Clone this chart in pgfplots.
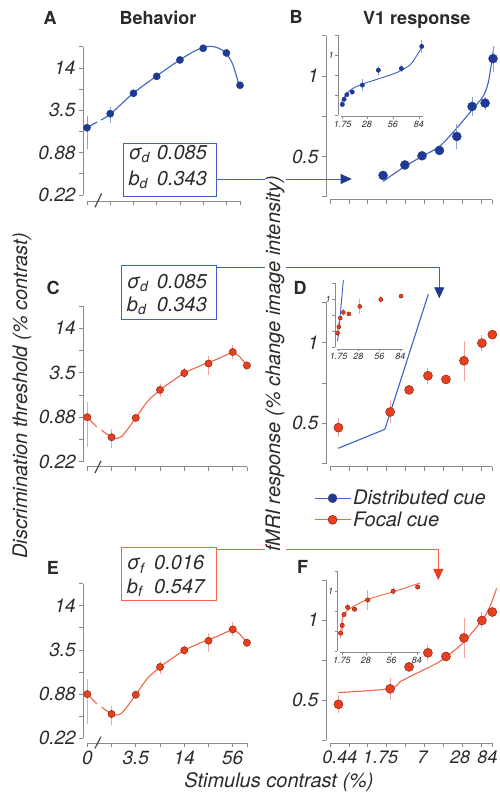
\documentclass[border=0pt]{standalone}
\usepackage{fontspec}
\setmainfont{TeX Gyre Heros}
\usepackage{pgfplots}
\usepackage{pgfplotstable}
\pgfplotsset{compat=1.18}
\usetikzlibrary{arrows.meta}

\definecolor{axgray}{HTML}{8A8A8A}
\definecolor{txt}{HTML}{2A2A2A}
\definecolor{bdot}{HTML}{1F3A93}
\definecolor{bline}{HTML}{3D62C4}
\definecolor{berr}{HTML}{8EA2DA}
\definecolor{rdot}{HTML}{E8401F}
\definecolor{redge}{HTML}{8E2412}
\definecolor{rline}{HTML}{F0644A}
\definecolor{rerr}{HTML}{F4A49A}

\newcommand\fs[1]{\fontsize{#1}{#1}\selectfont}
% tick label moved left by half of #1
\newcommand\lft[2]{\makebox[0pt]{\textit{#2}\hspace*{#1}}}

% behaviour: threshold (% contrast); 0 % contrast sits at 0.875, left of the break
\pgfplotstableread{
c thr ep em
0.875 1.99 0.93 1.0
1.75 3.15 0.77 0.83
3.5 6.14 0 0
7 10.7 0 0
14 18.3 0 0
28 26.8 0 0
56 23.0 0 0
84 7.99 0 0
}\distbeh
\pgfplotstableread{
c thr ep em
0.875 0.88 0.55 0.535
1.75 0.471 0.134 0.137
3.5 0.861 0 0
7 2.06 0.43 0.39
14 3.48 0.59 0.51
28 4.69 1.28 1.39
56 6.70 1.71 1.32
84 4.41 0.59 0.56
}\focalbeh
% fMRI response (% change)
\pgfplotstableread{
c resp err
1.54 0.382 0
3.43 0.447 0.03
6.44 0.504 0.02
12.2 0.537 0
23.1 0.624 0.077
40.4 0.810 0.057
65.2 0.831 0.04
87.2 1.107 0.08
}\distfmri
\pgfplotstableread{
c resp err
0.3 0.473 0.057
2 0.57 0.07
4 0.707 0
8 0.795 0.05
15.5 0.772 0
30 0.888 0.124
58 0.997 0.05
85 1.05 0.03
}\focalfmri

\pgfplotsset{
  every axis/.append style={scale only axis, axis lines=left, axis line style={axgray,line width=0.7pt,-},
    tick style={axgray,line width=0.7pt}, tick align=outside, major tick length=4pt, clip=false,
    ticklabel style={font=\fs{19}\itshape, text=txt}},
  bfit/.style={bline, line width=1.1pt},
  rfit/.style={rline, line width=1.1pt},
  bpts/.style={only marks, mark=*, mark size=#1, mark options={fill=bdot, draw=bdot},
    error bars/y dir=both, error bars/y explicit, error bars/error mark=none,
    error bars/error bar style={berr,line width=0.9pt}},
  rpts/.style={only marks, mark=*, mark size=#1, mark options={fill=rdot, draw=redge, line width=0.5pt},
    error bars/y dir=both, error bars/y explicit, error bars/error mark=none,
    error bars/error bar style={rerr,line width=0.9pt}},
}

\begin{document}
\begin{tikzpicture}[x=1pt,y=1pt]
\useasboundingbox (0,0) rectangle (500,795);

% A
\begin{axis}[at={(87pt,600pt)}, anchor=south west, width=153pt, height=148.2pt,
  xmode=log, ymode=log, log basis x=2, log basis y=2,
  xmin=0.875, xmax=84, ymin=0.22, ymax=28.16,
  xtick={0.875,1.75,3.5,7,14,28,56,84}, xticklabels={},
  ytick={0.22,0.44,0.88,1.76,3.52,7.04,14.08,28.16},
  yticklabels={\textit{0.22},,\textit{0.88},,\textit{3.5},,\textit{14},},
  axis x line shift=6pt, axis y line shift=4pt]
\addplot[bfit, smooth] coordinates {(0.875,1.99) (1.18,2.40)};
\addplot[bfit, smooth] coordinates {(1.33,2.56) (1.79,3.17) (3.45,6.11) (6.85,10.65) (13.6,18.0)
  (21.9,24.6) (31.4,28.4) (39.9,28.0) (49.1,25.4) (58.8,20.8) (68.2,15.5) (81.6,8.07)};
\addplot[bpts=3.6pt] table[x=c, y=thr, y error plus=ep, y error minus=em] {\distbeh};
\end{axis}

% C
\begin{axis}[at={(87.3pt,333.3pt)}, anchor=south west, width=159.6pt, height=155.7pt,
  xmode=log, ymode=log, log basis x=2, log basis y=2,
  xmin=0.875, xmax=84, ymin=0.22, ymax=28.16,
  xtick={0.875,1.75,3.5,7,14,28,56,84}, xticklabels={},
  ytick={0.22,0.44,0.88,1.76,3.52,7.04,14.08,28.16},
  yticklabels={\textit{0.22},,\textit{0.88},,\textit{3.5},,\textit{14},},
  axis x line shift=5pt, axis y line shift=4pt]
\addplot[rfit, smooth] coordinates {(0.875,0.88) (1.146,0.65)};
\addplot[rfit, smooth] coordinates {(1.32,0.59) (1.45,0.54) (1.77,0.476) (2.05,0.454) (2.37,0.491)
  (2.73,0.592) (3.5,0.861) (4.84,1.42) (7.02,2.06) (10.2,2.76) (14,3.48) (22.1,4.37) (35.9,5.38)
  (47.4,6.2) (55.7,6.6) (66.1,6.0) (84,4.41)};
\addplot[rpts=3.6pt] table[x=c, y=thr, y error plus=ep, y error minus=em] {\focalbeh};
\end{axis}

% E
\begin{axis}[at={(87.3pt,56.7pt)}, anchor=south west, width=159.6pt, height=154.7pt,
  xmode=log, ymode=log, log basis x=2, log basis y=2,
  xmin=0.875, xmax=84, ymin=0.22, ymax=28.16,
  xtick={0.875,1.75,3.5,7,14,28,56,84},
  xticklabels={\textit{0},,\textit{3.5},,\textit{14},,\textit{56},},
  ytick={0.22,0.44,0.88,1.76,3.52,7.04,14.08,28.16},
  yticklabels={\textit{0.22},,\textit{0.88},,\textit{3.5},,\textit{14},},
  axis x line shift=5pt, axis y line shift=4pt]
\addplot[rfit, smooth] coordinates {(0.875,0.88) (1.146,0.65)};
\addplot[rfit, smooth] coordinates {(1.32,0.59) (1.45,0.54) (1.77,0.476) (2.05,0.454) (2.37,0.491)
  (2.73,0.592) (3.5,0.861) (4.84,1.42) (7.02,2.06) (10.2,2.76) (14,3.48) (22.1,4.37) (35.9,5.38)
  (47.4,6.2) (55.7,6.6) (66.1,6.0) (84,4.41)};
\addplot[rpts=3.6pt] table[x=c, y=thr, y error plus=ep, y error minus=em] {\focalbeh};
\end{axis}

% B
\begin{axis}[at={(330pt,598.3pt)}, anchor=south west, width=162pt, height=161.1pt,
  xmode=log, log basis x=2, xmin=0.22, xmax=84, ymin=0.25, ymax=1.25,
  xtick={0.22,0.44,0.875,1.75,3.5,7,14,28,56,84}, xticklabels={},
  ytick={0.25,0.5,0.75,1,1.25}, yticklabels={,\textit{0.5},,\textit{1},},
  axis x line shift=3pt, axis y line shift=4pt]
\addplot[bfit, smooth] coordinates {(1.54,0.345) (3.43,0.438) (6.44,0.500) (12.2,0.562) (23.1,0.676)
  (40.4,0.789) (60.4,0.872) (72.8,0.955) (82.5,1.079) (89.7,1.18)};
\addplot[bpts=4.5pt] table[x=c, y=resp, y error=err] {\distfmri};
\end{axis}

% D
\begin{axis}[at={(330pt,331.4pt)}, anchor=south west, width=162pt, height=161.2pt,
  xmode=log, log basis x=2, xmin=0.22, xmax=84, ymin=0.25, ymax=1.25,
  xtick={0.22,0.44,0.875,1.75,3.5,7,14,28,56,84}, xticklabels={},
  ytick={0.25,0.5,0.75,1,1.25}, yticklabels={,\textit{0.5},,\textit{1},},
  axis x line shift=3pt, axis y line shift=4pt]
\addplot[bfit] coordinates {(0.298,0.345) (1.65,0.463) (8.1,1.30)};
\addplot[rpts=4.5pt] table[x=c, y=resp, y error=err] {\focalfmri};
\end{axis}

% F
\begin{axis}[at={(330pt,55pt)}, anchor=south west, width=162pt, height=160pt,
  xmode=log, log basis x=2, xmin=0.22, xmax=84, ymin=0.25, ymax=1.25,
  xtick={0.22,0.44,0.875,1.75,3.5,7,14,28,56,84},
  xticklabels={,\lft{18pt}{0.44},,\lft{12pt}{1.75},,\lft{4pt}{7},,\lft{4pt}{28},,\lft{9pt}{84}},
  xticklabel style={font=\fs{18}\itshape},
  ytick={0.25,0.5,0.75,1,1.25}, yticklabels={,\textit{0.5},,\textit{1},},
  axis x line shift=3pt, axis y line shift=4pt,
  legend image code/.code={\draw[mark repeat=2,mark phase=2,#1] plot coordinates {(0pt,0pt) (18pt,0pt) (36pt,0pt)};},
  legend style={at={(-0.1,1.575)}, anchor=north west, draw=none, fill=none, font=\fs{20}\itshape,
    text=txt, inner sep=0pt, row sep=1.5pt}, legend cell align=left]
\addlegendimage{bfit, mark=*, mark size=4.5pt, mark options={fill=bdot, draw=black!70, line width=0.5pt}}
\addlegendentry{Distributed cue}
\addlegendimage{rfit, mark=*, mark size=4.5pt, mark options={fill=rdot, draw=redge, line width=0.5pt}}
\addlegendentry{Focal cue}
\addplot[rfit, smooth, forget plot] coordinates {(0.298,0.546) (1.99,0.571) (2.87,0.614) (5.29,0.667)
  (11.0,0.729) (15.7,0.771) (29.2,0.858) (58.6,1.0) (77.8,1.083) (99.4,1.198)};
\addplot[rpts=4.5pt, forget plot] table[x=c, y=resp, y error=err] {\focalfmri};
\end{axis}

% insets
\begin{axis}[at={(340.9pt,680pt)}, anchor=south west, width=81.6pt, height=80pt,
  axis line style={axgray,line width=0.5pt,-}, tick style={axgray,line width=0.5pt}, major tick length=2.5pt,
  xmin=0, xmax=88, ymin=0.25, ymax=1.25,
  xtick={1.75,28,56,84}, xticklabels={\textit{1.75},\textit{28},\textit{56},\textit{84}},
  ytick={0.25,0.5,0.75,1,1.25}, yticklabels={,,,\textit{1},},
  ticklabel style={font=\fs{9}\itshape, text=txt, inner sep=1.5pt},
  axis x line shift=1.5pt, axis y line shift=3pt]
\addplot[bfit, line width=0.9pt, smooth] coordinates {(0.3,0.40) (4,0.48) (8,0.54) (14,0.59) (24,0.64)
  (40,0.70) (60,0.78) (74,0.87) (80,0.96) (87,1.09)};
\addplot[bpts=2.2pt] table[x=c, y=resp, y error=err] {\distfmri};
\end{axis}

\begin{axis}[at={(337.3pt,447.7pt)}, anchor=south west, width=66pt, height=64pt,
  axis line style={axgray,line width=0.5pt,-}, tick style={axgray,line width=0.5pt}, major tick length=2.5pt,
  xmin=0, xmax=88, ymin=0.25, ymax=1.25,
  xtick={1.75,28,56,84}, xticklabels={\textit{1.75},\textit{28},\textit{56},\textit{84}},
  ytick={0.25,0.5,0.75,1,1.25}, yticklabels={,,,\textit{1},},
  ticklabel style={font=\fs{9}\itshape, text=txt, inner sep=1.5pt},
  axis x line shift=1.5pt, axis y line shift=2.5pt]
\addplot[bfit, line width=0.9pt] coordinates {(0.298,0.345) (1.65,0.463) (8.1,1.30)};
\addplot[rpts=2pt] table[x=c, y=resp, y error=err] {\focalfmri};
\end{axis}

\begin{axis}[at={(340.4pt,144pt)}, anchor=south west, width=80pt, height=80pt,
  axis line style={axgray,line width=0.5pt,-}, tick style={axgray,line width=0.5pt}, major tick length=2.5pt,
  xmin=0, xmax=88, ymin=0.25, ymax=1.25,
  xtick={1.75,28,56,84}, xticklabels={\textit{1.75},\textit{28},\textit{56},\textit{84}},
  ytick={0.25,0.5,0.75,1,1.25}, yticklabels={,,,\textit{1},},
  ticklabel style={font=\fs{9}\itshape, text=txt, inner sep=1.5pt},
  axis x line shift=1.5pt, axis y line shift=3pt]
\addplot[rfit, line width=0.9pt, smooth] coordinates {(0.3,0.47) (1.5,0.6) (3.2,0.70) (10.6,0.78)
  (28.8,0.89) (58.1,0.99) (87.6,1.10)};
\addplot[rpts=2.2pt] table[x=c, y=resp, y error=err] {\focalfmri};
\end{axis}

% axis breaks
\draw[txt!85, line width=1.2pt] (95,587.7) -- (101.7,601.7);
\draw[txt!85, line width=1.2pt] (95,322) -- (101,334);
\draw[txt!85, line width=1.2pt] (95,46.7) -- (101,58.3);

% arrows from the parameter boxes
\draw[bline, line width=0.9pt, -{Triangle[length=11pt,width=10pt,color=bdot]}] (216.7,616) -- (351.7,616);
\draw[bline, line width=0.9pt, -{Triangle[length=11pt,width=10pt,color=bdot]}] (216.7,527.3) -- (439.3,527.3) -- (439.3,496.7);
\draw[rline, line width=0.9pt, -{Triangle[length=11pt,width=10pt,color=rdot]}] (216.7,246) -- (438.3,246) -- (438.3,215);

% axis labels
\node[rotate=90, font=\fs{20}\itshape, text=txt] at (22,399) {Discrimination threshold (\% contrast)};
\node[rotate=90, font=\fs{20}\itshape, text=txt, fill=white, inner sep=1pt] at (275,431) {fMRI response (\% change image intensity)};
\node[anchor=base, font=\fs{20}\itshape, text=txt] at (279,7) {Stimulus contrast (\%)};

% titles and panel letters
\node[anchor=base, font=\fs{18}\bfseries, text=txt] at (50,770) {A};
\node[anchor=base, font=\fs{18}\bfseries, text=txt] at (158,770) {Behavior};
\node[anchor=base, font=\fs{18}\bfseries, text=txt] at (296,771) {B};
\node[anchor=base, font=\fs{18}\bfseries, text=txt] at (416.7,770) {V1 response};
\node[anchor=base, font=\fs{18}\bfseries, text=txt] at (53,500) {C};
\node[anchor=base, font=\fs{18}\bfseries, text=txt] at (300,500) {D};
\node[anchor=base, font=\fs{18}\bfseries, text=txt] at (53,220) {E};
\node[anchor=base, font=\fs{18}\bfseries, text=txt] at (302.5,221.7) {F};

% parameter boxes
\draw[bline, line width=0.8pt, fill=white] (123.3,651.7) rectangle (216.7,598.3);
\node[anchor=base west, font=\fs{20}\itshape, text=txt, inner sep=0pt] at (128.3,635.7) {σ\textsubscript{d}};
\node[anchor=base west, font=\fs{20}\itshape, text=txt, inner sep=0pt] at (156.7,635.7) {0.085};
\node[anchor=base west, font=\fs{20}\itshape, text=txt, inner sep=0pt] at (128.3,609.3) {b\textsubscript{d}};
\node[anchor=base west, font=\fs{20}\itshape, text=txt, inner sep=0pt] at (156.7,609.3) {0.343};

\draw[bline, line width=0.8pt, fill=white] (121,529.3) rectangle (216.7,476);
\node[anchor=base west, font=\fs{20}\itshape, text=txt, inner sep=0pt] at (126.7,506.7) {σ\textsubscript{d}};
\node[anchor=base west, font=\fs{20}\itshape, text=txt, inner sep=0pt] at (156.7,506.7) {0.085};
\node[anchor=base west, font=\fs{20}\itshape, text=txt, inner sep=0pt] at (126.7,483.3) {b\textsubscript{d}};
\node[anchor=base west, font=\fs{20}\itshape, text=txt, inner sep=0pt] at (156.7,483.3) {0.343};

\draw[rline, line width=0.8pt, fill=white] (121,247.7) rectangle (216.7,194.3);
\node[anchor=base west, font=\fs{20}\itshape, text=txt, inner sep=0pt] at (126.7,225) {σ\textsubscript{f}};
\node[anchor=base west, font=\fs{20}\itshape, text=txt, inner sep=0pt] at (154,225) {0.016};
\node[anchor=base west, font=\fs{20}\itshape, text=txt, inner sep=0pt] at (126.7,201.7) {b\textsubscript{f}};
\node[anchor=base west, font=\fs{20}\itshape, text=txt, inner sep=0pt] at (154,201.7) {0.547};
\end{tikzpicture}
\end{document}
